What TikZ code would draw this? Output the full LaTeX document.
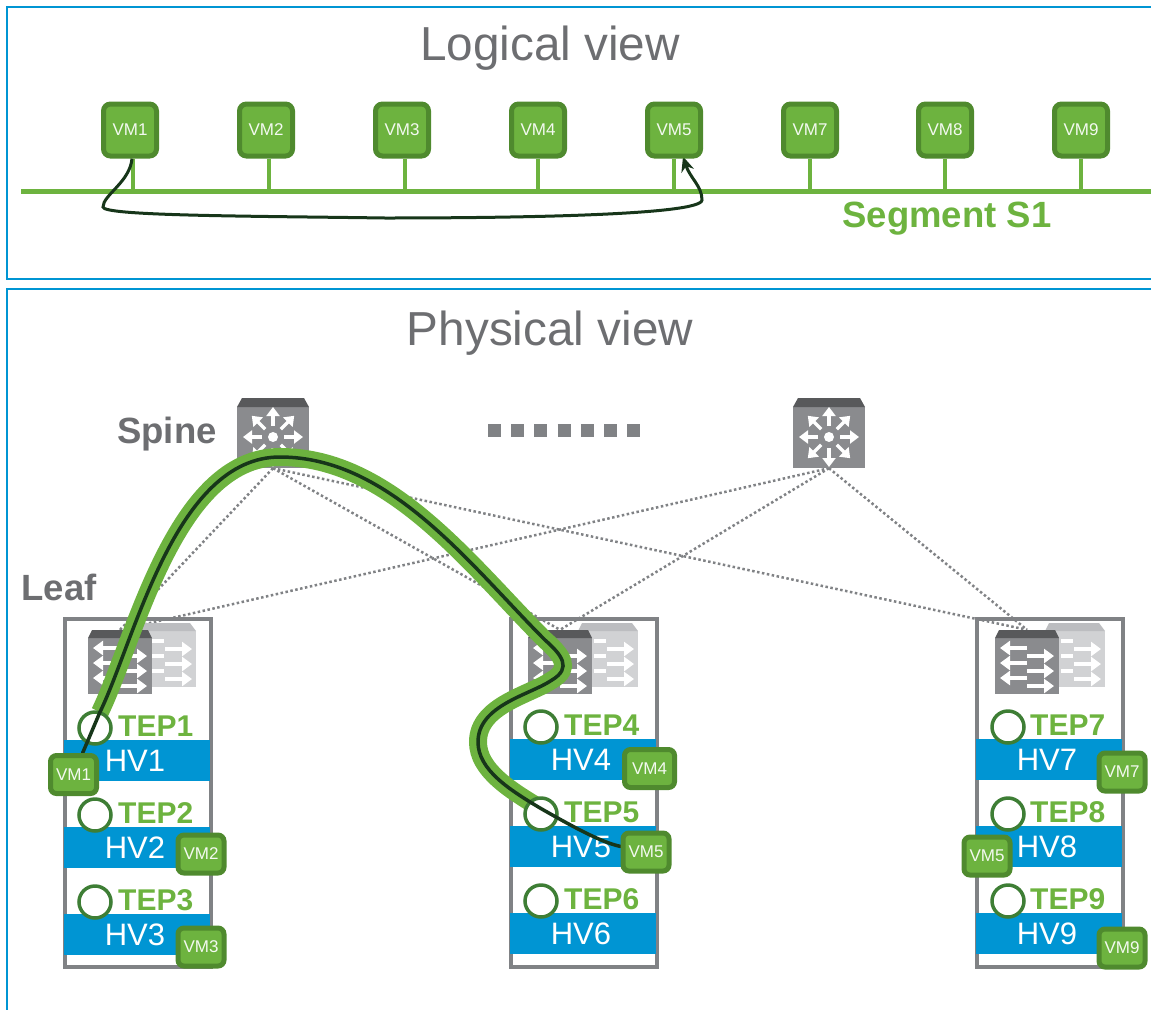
\documentclass[tikz,border=0pt]{standalone}
\usepackage{fontspec}
\setmainfont{Liberation Sans}
\usetikzlibrary{arrows.meta,calc}
\pgfdeclarelayer{base}\pgfdeclarelayer{dots}\pgfdeclarelayer{sw}\pgfdeclarelayer{thick}\pgfdeclarelayer{tep}\pgfdeclarelayer{thin}
\pgfsetlayers{base,dots,sw,thick,tep,thin,main}
\definecolor{vgreen}{HTML}{6DB33F}
\definecolor{vdark}{HTML}{4F8A2E}
\definecolor{tepring}{HTML}{3E7E35}
\definecolor{pathdark}{HTML}{17361A}
\definecolor{vblue}{HTML}{0095D3}
\definecolor{vgray}{HTML}{6D6E71}
\definecolor{rackgray}{HTML}{808285}
\definecolor{swbody}{HTML}{8A8B8E}
\definecolor{swtop}{HTML}{58595B}
\definecolor{ltbody}{HTML}{D1D2D4}
\definecolor{lttop}{HTML}{BCBDC0}
\newcommand{\fs}[1]{\fontsize{#1}{#1}\selectfont}
\tikzset{
  frameline/.style={draw=vblue,line width=2.5pt},
  vmbig/.style={draw=vdark,fill=vgreen,line width=5pt,rounded corners=7pt,minimum width=53pt,minimum height=52pt,inner sep=0pt,text=white!92!vgreen,font=\fs{17}},
  vmsmall/.style={draw=vdark,fill=vgreen,line width=5pt,rounded corners=6pt,minimum width=46pt,minimum height=38pt,inner sep=0pt,text=white!92!vgreen,font=\fs{17}},
  stem/.style={draw=vgreen,line width=4pt},
  title/.style={text=vgray,font=\fs{47.7}},
  boldlabel/.style={text=vgray,font=\bfseries\fs{36.5}},
  teplabel/.style={text=vgreen,font=\bfseries\fs{30},anchor=west,inner sep=0pt},
  hvbar/.style={fill=vblue,minimum width=146pt,minimum height=41pt,inner sep=0pt,text=white,font=\fs{31}},
  tepring/.style={circle,draw=tepring,fill=white,line width=3.5pt,minimum size=32pt,inner sep=0pt},
  rackbox/.style={draw=rackgray,line width=3.5pt},
  dotline/.style={draw=rackgray,line width=2.5pt,dash pattern=on 2.5pt off 2.5pt},
  swarrow/.style={draw=white,line width=4pt,-{Triangle[length=10pt,width=14pt]}},
  thickpath/.style={draw=vgreen,line width=18pt,line cap=butt},
  thinpath/.style={draw=pathdark,line width=3.5pt,line cap=round},
}
% #1 node name, #2 rack left x, #3 dark offset, #4 light offset
\newcommand{\leafswitch}[4]{%
  \begin{pgfonlayer}{sw}
  \begin{scope}[shift={(#2+#4,623)}]
    \fill[ltbody] (0,8) rectangle (60,64);
    \fill[lttop] (4,0) -- (54,0) -- (60,8) -- (0,8) -- cycle;
    \foreach \yy in {26,41,56}{\draw[swarrow] (29,\yy) -- (56,\yy);}
    \foreach \yy in {18,33,48}{\draw[draw=white,line width=4pt] (16,\yy) -- (28,\yy);}
  \end{scope}
  \begin{scope}[shift={(#2+#3,630)}]
    \fill[swbody] (0,8) rectangle (64,64);
    \fill[swtop] (4,0) -- (60,0) -- (64,8) -- (0,8) -- cycle;
    \foreach \yy in {18,33,48}{\draw[swarrow] (32,\yy) -- (5,\yy);}
    \foreach \yy in {26,41,56}{\draw[swarrow] (32,\yy) -- (59,\yy);}
  \end{scope}
  \node[inner sep=0pt,minimum width=64pt,minimum height=64pt] (#1) at (#2+#3+32,662) {};
  \end{pgfonlayer}}
% #1 node name, #2 x
\newcommand{\spineswitch}[2]{%
  \begin{pgfonlayer}{sw}
  \begin{scope}[shift={(#2,398)}]
    \fill[swbody] (-36,9) rectangle (36,70);
    \fill[swtop] (-31,0) -- (31,0) -- (36,9) -- (-36,9) -- cycle;
    \fill[white] (0,39) circle (5pt);
    \foreach \aa in {0,45,...,315}{\draw[draw=white,line width=3.5pt,-{Triangle[length=9pt,width=13pt]}] ($(0,39)+(\aa:11pt)$) -- ($(0,39)+(\aa:30pt)$);}
  \end{scope}
  \node[inner sep=0pt,minimum width=72pt,minimum height=70pt] (#1) at (#2,433) {};
  \end{pgfonlayer}}
% #1 rack id, #2 left x
\newcommand{\rackcol}[2]{%
  \begin{pgfonlayer}{base}
    \node[rackbox,minimum width=146pt,minimum height=348pt,inner sep=0pt] (rack#1) at (#2+73,793) {};
  \end{pgfonlayer}}
% #1 digit, #2 left x, #3 ring x, #4 y
\newcommand{\hostrow}[4]{%
  \begin{pgfonlayer}{base}
    \node[hvbar] (hv#1) at (#2+72,#4+32.5) {\hspace*{-4pt}HV#1};
  \end{pgfonlayer}
  \begin{pgfonlayer}{tep}
    \node[tepring] (tep#1) at (#3,#4) {};
    \node[teplabel] (teplabel#1) at (#2+53,#4-2) {TEP#1};
  \end{pgfonlayer}}
\begin{document}
\begin{tikzpicture}[x=1pt,y=-1pt]
\useasboundingbox (0,0) rectangle (1151,1010);
% frames
\begin{pgfonlayer}{base}
\draw[frameline] (1151,7) -- (7,7) -- (7,279) -- (1151,279);
\draw[frameline] (1151,289) -- (7,289) -- (7,1010);
\end{pgfonlayer}
\node[title] (logicaltitle) at (550,48) {Logical view};
\node[title] (physicaltitle) at (550,333) {Physical view};
% logical view
\coordinate (busL) at (21,191);
\coordinate (busR) at (1151,191);
\foreach \nn/\xx/\ss/\ll in {a/130/3/VM1,b/266/3/VM2,c/402/3/VM3,d/538/0/VM4,e/674/0/VM5,f/810/0/VM7,g/945/0/VM8,h/1081/0/VM9}{
  \node[vmbig] (lv\nn) at (\xx,130) {\ll};
  \begin{pgfonlayer}{base}
  \draw[stem] ([xshift=\ss pt]lv\nn.south) -- ([xshift=\ss pt]lv\nn.south |- busL);
  \end{pgfonlayer}
}
\begin{pgfonlayer}{base}
\draw[draw=vgreen,line width=5pt] (busL) -- (busR);
\end{pgfonlayer}
\node[text=vgreen,font=\bfseries\fs{36.5}] (segment) at (947,219) {Segment S1};
\begin{pgfonlayer}{thin}
\draw[draw=pathdark,line width=3pt,-{Stealth[length=15pt,width=13pt]}] ([xshift=2pt]lva.south) .. controls (130,182) and (103,195) .. (103,207) .. controls (103,216) and (250,216) .. (385,218) .. controls (520,218) and (702,215) .. (702,200) .. controls (702,186) and (690,178) .. ([xshift=9pt,yshift=2pt]lve.south);
\end{pgfonlayer}
% physical: labels
\node[boldlabel] (spinelabel) at (167,434) {Spine};
\node[boldlabel] (leaflabel) at (59,587) {Leaf};
\spineswitch{spineA}{273}
\spineswitch{spineB}{829}
\begin{pgfonlayer}{base}
\draw[draw=rackgray,line width=13pt,dash pattern=on 13pt off 10.2pt] (488,430) -- (641,430);
\end{pgfonlayer}
% racks
\rackcol{A}{65}\rackcol{B}{511}\rackcol{C}{977}
\leafswitch{leafA}{65}{23}{71}
\leafswitch{leafB}{511}{17}{67}
\leafswitch{leafC}{977}{18}{68}
\hostrow{1}{65}{95}{728}\hostrow{2}{65}{95}{815}\hostrow{3}{65}{95}{902}
\hostrow{4}{511}{541}{727}\hostrow{5}{511}{541}{814}\hostrow{6}{511}{541}{901}
\hostrow{7}{977}{1008}{727}\hostrow{8}{977}{1008}{814}\hostrow{9}{977}{1008}{901}
% dotted links
\begin{pgfonlayer}{dots}
\foreach \ss in {spineA,spineB}{\foreach \ll in {leafA,leafB,leafC}{
  \draw[dotline] (\ss.south) -- (\ll.north);}}
\end{pgfonlayer}
% physical VMs
\node[vmsmall] (pv1) at (73.5,774.5) {VM1};
\node[vmsmall] (pv2) at (201,854) {VM2};
\node[vmsmall] (pv3) at (201,947) {VM3};
\node[vmsmall,minimum width=50pt] (pv4) at (649.5,768.5) {VM4};
\node[vmsmall] (pv5) at (646,852) {VM5};
\node[vmsmall] (pv7) at (1122,772) {VM7};
\node[vmsmall] (pv8) at (987,856) {VM5};
\node[vmsmall] (pv9) at (1122,948) {VM9};
% tunnel path
\coordinate (ta) at (100,712);
\coordinate (tb) at (540,808);
\begin{pgfonlayer}{thick}
\draw[thickpath] (ta) .. controls (135,640) and (175,457) .. (280,457) .. controls (390,457) and (470,565) .. (545,640) .. controls (562,655) and (572,668) .. (552,680) .. controls (530,695) and (478,705) .. (478,742) .. controls (478,770) and (510,790) .. (tb);
\end{pgfonlayer}
\begin{pgfonlayer}{thin}
\draw[thinpath] (pv1) -- (ta) .. controls (135,640) and (175,457) .. (280,457) .. controls (390,457) and (470,565) .. (545,640) .. controls (562,655) and (572,668) .. (552,680) .. controls (530,695) and (478,705) .. (478,742) .. controls (478,770) and (510,790) .. (tb) .. controls (570,825) and (600,842) .. (pv5);
\end{pgfonlayer}
\end{tikzpicture}
\end{document}
